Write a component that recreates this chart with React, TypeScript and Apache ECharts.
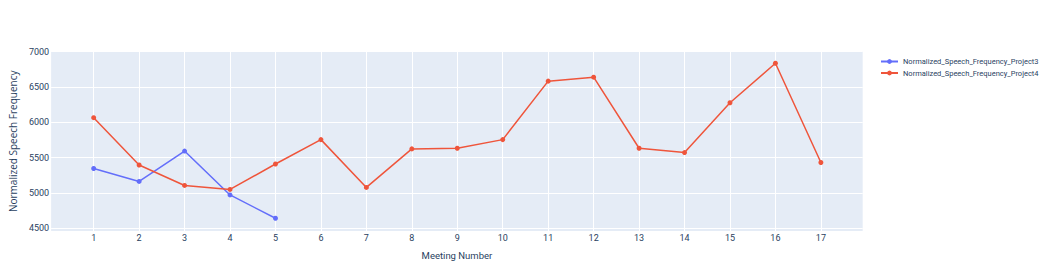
import React, { useEffect, useRef } from "react";
import * as echarts from "echarts";

const meetings = [1, 2, 3, 4, 5, 6, 7, 8, 9, 10, 11, 12, 13, 14, 15, 16, 17];
const project3 = [5346, 5163, 5592, 4972, 4642];
const project4 = [6064, 5395, 5106, 5050, 5409, 5754, 5078, 5623, 5632, 5754, 6581, 6637, 5632, 5571, 6275, 6834, 5430];
const yTicks = [4500, 5000, 5500, 6000, 6500, 7000];
const seriesNames = ["Normalized_Speech_Frequency_Project3", "Normalized_Speech_Frequency_Project4"];

export default function App() {
  const ref = useRef<HTMLDivElement>(null);
  useEffect(() => {
    const chart = echarts.init(ref.current!, null, { renderer: "svg" });
    const font = "'Open Sans', sans-serif";
    const narrow = "Roboto, 'Open Sans', sans-serif";
    const textColor = "#2a3f5f";
    chart.setOption({
      animation: false,
      backgroundColor: "#ffffff",
      grid: {
        left: 48.3,
        right: 183.3,
        top: 51.5,
        bottom: 39,
        show: true,
        backgroundColor: "#E5ECF6",
        borderWidth: 0,
        containLabel: false,
      },
      legend: {
        orient: "vertical",
        left: 880,
        top: 57.5,
        padding: 0,
        itemWidth: 17,
        itemHeight: 6,
        itemGap: 3.5,
        textStyle: { fontFamily: narrow, fontSize: 7.5, color: textColor },
        data: seriesNames,
      },
      xAxis: {
        type: "value",
        min: 0.064,
        max: 17.92,
        name: "Meeting Number",
        nameLocation: "middle",
        nameGap: 19,
        nameTextStyle: { fontFamily: narrow, fontSize: 9.5, color: textColor },
        axisLine: { show: false },
        axisTick: { show: false, customValues: meetings },
        axisLabel: {
          customValues: meetings,
          fontFamily: narrow,
          fontSize: 9,
          color: textColor,
          margin: 2,
        },
        splitLine: { show: true, lineStyle: { color: "#ffffff", width: 1 } },
      },
      yAxis: {
        type: "value",
        min: 4462,
        max: 7000,
        name: "Normalized Speech Frequency",
        nameLocation: "middle",
        nameGap: 29,
        nameTextStyle: { fontFamily: font, fontSize: 10, color: textColor },
        axisLine: { show: false },
        axisTick: { show: false, customValues: yTicks },
        axisLabel: {
          customValues: yTicks,
          formatter: (v: number) => String(v),
          fontFamily: narrow,
          fontSize: 9,
          color: textColor,
          margin: 2,
        },
        splitLine: { show: true, lineStyle: { color: "#ffffff", width: 1 } },
      },
      series: [
        {
          name: seriesNames[0],
          type: "line",
          data: project3.map((v, i) => [meetings[i], v]),
          symbol: "circle",
          symbolSize: 5,
          itemStyle: { color: "#636efa" },
          lineStyle: { color: "#636efa", width: 1.5 },
        },
        {
          name: seriesNames[1],
          type: "line",
          data: project4.map((v, i) => [meetings[i], v]),
          symbol: "circle",
          symbolSize: 5,
          itemStyle: { color: "#EF553B" },
          lineStyle: { color: "#EF553B", width: 1.5 },
        },
      ],
    });
    return () => chart.dispose();
  }, []);
  return <div ref={ref} style={{ position: "absolute", left: 0, top: 0, width: 1046, height: 270 }} />;
}
